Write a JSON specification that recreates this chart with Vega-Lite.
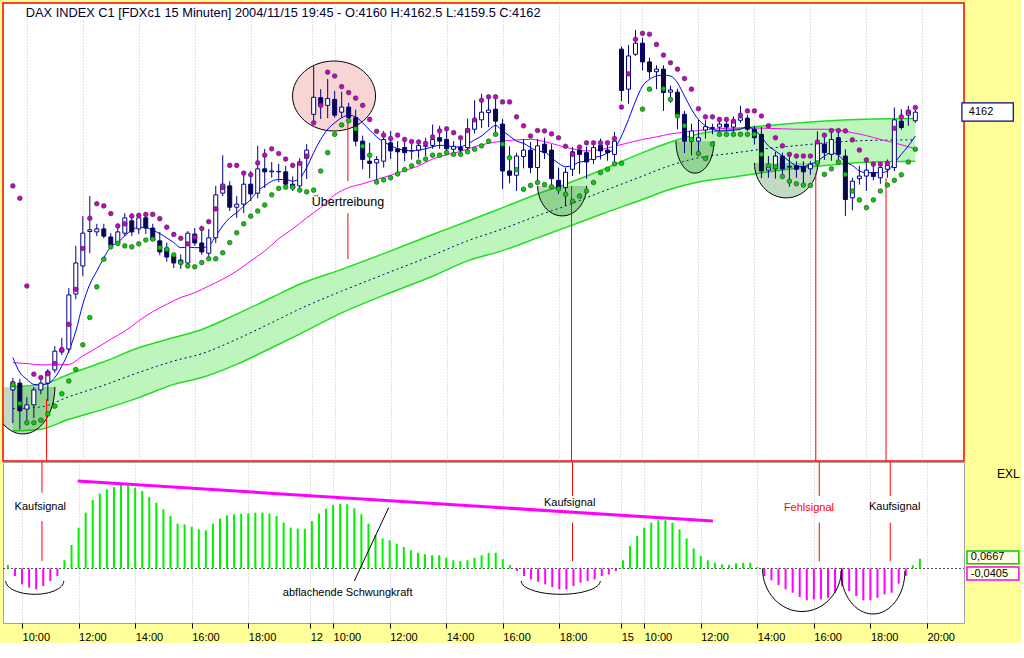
{
  "$schema": "https://vega.github.io/schema/vega-lite/v6.json",
  "background": "#FFFF99",
  "padding": {"left": 2, "top": 2, "right": 0, "bottom": 0},
  "config": {"font": "Liberation Sans"},
  "datasets": {
    "bars": [
      {"i":0,"o":4096.8,"h":4099.6,"l":4089.0,"c":4098.7,"sp":4144.7,"sg":4098.0,"ma":4104.4},
      {"i":1,"o":4098.4,"h":4099.4,"l":4087.5,"c":4091.9,"sp":4141.8,"sg":4093.6,"ma":4100.9},
      {"i":2,"o":4092.3,"h":4095.1,"l":4089.5,"c":4093.3,"sp":4121.2,"sg":4089.1,"ma":4099.3},
      {"i":3,"o":4093.3,"h":4097.5,"l":4090.2,"c":4096.8,"sp":4100.5,"sg":4089.1,"ma":4098.1},
      {"i":4,"o":4096.8,"h":4099.6,"l":4095.8,"c":4098.4,"sp":4099.7,"sg":4089.7,"ma":4098.0},
      {"i":5,"o":4098.4,"h":4101.7,"l":4094.2,"c":4101.2,"sp":4100.6,"sg":4091.2,"ma":4098.3},
      {"i":6,"o":4101.5,"h":4107.1,"l":4100.8,"c":4105.9,"sp":4103.0,"sg":4093.0,"ma":4099.7},
      {"i":7,"o":4105.7,"h":4109.0,"l":4105.0,"c":4106.4,"sp":4106.3,"sg":4095.9,"ma":4102.4},
      {"i":8,"o":4106.4,"h":4120.7,"l":4105.5,"c":4119.1,"sp":4112.2,"sg":4098.9,"ma":4105.9},
      {"i":9,"o":4119.3,"h":4130.6,"l":4118.1,"c":4126.6,"sp":4120.4,"sg":4101.6,"ma":4110.6},
      {"i":10,"o":4125.9,"h":4137.6,"l":4123.5,"c":4133.6,"sp":4130.0,"sg":4107.4,"ma":4116.9},
      {"i":11,"o":4134.0,"h":4142.3,"l":4128.9,"c":4134.4,"sp":4137.1,"sg":4113.8,"ma":4121.6},
      {"i":12,"o":4133.9,"h":4135.8,"l":4132.9,"c":4134.6,"sp":4140.5,"sg":4121.0,"ma":4124.7},
      {"i":13,"o":4134.6,"h":4135.8,"l":4132.4,"c":4132.9,"sp":4140.0,"sg":4127.5,"ma":4127.8},
      {"i":14,"o":4132.7,"h":4133.6,"l":4130.1,"c":4130.8,"sp":4138.2,"sg":4130.4,"ma":4130.4},
      {"i":15,"o":4131.3,"h":4134.8,"l":4130.6,"c":4133.9,"sp":4135.3,"sg":4131.2,"ma":4131.4},
      {"i":16,"o":4133.6,"h":4138.3,"l":4132.9,"c":4137.2,"sp":4135.8,"sg":4130.6,"ma":4133.0},
      {"i":17,"o":4136.5,"h":4138.3,"l":4132.9,"c":4133.9,"sp":4137.6,"sg":4130.4,"ma":4134.3},
      {"i":18,"o":4134.6,"h":4138.3,"l":4133.4,"c":4137.2,"sp":4137.8,"sg":4131.1,"ma":4135.0},
      {"i":19,"o":4137.2,"h":4138.3,"l":4133.4,"c":4134.8,"sp":4138.0,"sg":4132.0,"ma":4134.9},
      {"i":20,"o":4134.8,"h":4135.8,"l":4131.8,"c":4132.0,"sp":4138.0,"sg":4132.2,"ma":4134.3},
      {"i":21,"o":4131.8,"h":4133.9,"l":4128.4,"c":4129.2,"sp":4137.0,"sg":4130.2,"ma":4133.5},
      {"i":22,"o":4130.1,"h":4131.4,"l":4126.9,"c":4128.0,"sp":4135.0,"sg":4129.8,"ma":4132.5},
      {"i":23,"o":4128.2,"h":4128.7,"l":4125.4,"c":4126.6,"sp":4133.3,"sg":4128.5,"ma":4131.4},
      {"i":24,"o":4127.3,"h":4128.6,"l":4125.2,"c":4126.4,"sp":4132.4,"sg":4126.7,"ma":4130.2},
      {"i":25,"o":4126.6,"h":4134.1,"l":4125.9,"c":4133.6,"sp":4131.1,"sg":4125.9,"ma":4130.3},
      {"i":26,"o":4133.4,"h":4134.8,"l":4130.6,"c":4131.3,"sp":4132.7,"sg":4125.7,"ma":4130.2},
      {"i":27,"o":4131.3,"h":4135.3,"l":4128.5,"c":4129.2,"sp":4134.7,"sg":4126.7,"ma":4130.2},
      {"i":28,"o":4128.9,"h":4134.6,"l":4128.0,"c":4132.5,"sp":4136.3,"sg":4127.6,"ma":4130.6},
      {"i":29,"o":4132.5,"h":4144.7,"l":4131.3,"c":4142.6,"sp":4139.3,"sg":4127.6,"ma":4132.9},
      {"i":30,"o":4143.0,"h":4151.9,"l":4142.3,"c":4145.1,"sp":4144.3,"sg":4129.0,"ma":4135.3},
      {"i":31,"o":4144.7,"h":4145.8,"l":4138.8,"c":4139.7,"sp":4149.5,"sg":4131.4,"ma":4137.2},
      {"i":32,"o":4139.7,"h":4142.3,"l":4137.2,"c":4140.4,"sp":4149.5,"sg":4133.7,"ma":4138.4},
      {"i":33,"o":4140.4,"h":4148.2,"l":4138.3,"c":4145.1,"sp":4147.7,"sg":4135.8,"ma":4140.0},
      {"i":34,"o":4145.1,"h":4148.2,"l":4141.1,"c":4142.8,"sp":4147.3,"sg":4137.6,"ma":4141.5},
      {"i":35,"o":4143.0,"h":4154.1,"l":4141.8,"c":4148.7,"sp":4150.1,"sg":4138.8,"ma":4143.5},
      {"i":36,"o":4148.7,"h":4153.4,"l":4144.2,"c":4148.0,"sp":4151.9,"sg":4140.2,"ma":4144.7},
      {"i":37,"o":4148.0,"h":4150.3,"l":4146.6,"c":4148.2,"sp":4153.4,"sg":4142.6,"ma":4145.8},
      {"i":38,"o":4148.0,"h":4149.9,"l":4145.6,"c":4148.1,"sp":4152.3,"sg":4144.1,"ma":4146.2},
      {"i":39,"o":4148.0,"h":4149.4,"l":4144.2,"c":4145.1,"sp":4151.0,"sg":4144.4,"ma":4146.2},
      {"i":40,"o":4145.1,"h":4146.9,"l":4143.5,"c":4144.2,"sp":4149.5,"sg":4144.4,"ma":4145.8},
      {"i":41,"o":4144.7,"h":4151.2,"l":4143.5,"c":4150.3,"sp":4150.0,"sg":4143.7,"ma":4146.5},
      {"i":42,"o":4151.2,"h":4154.5,"l":4146.3,"c":4153.1,"sp":4151.7,"sg":4143.3,"ma":4149.0},
      {"i":43,"o":4161.5,"h":4172.8,"l":4159.9,"c":4165.5,"sp":4159.5,"sg":4143.7,"ma":4152.5},
      {"i":44,"o":4165.4,"h":4167.4,"l":4160.4,"c":4163.6,"sp":4163.6,"sg":4148.2,"ma":4155.6},
      {"i":45,"o":4163.6,"h":4169.8,"l":4160.6,"c":4165.2,"sp":4171.4,"sg":4152.5,"ma":4158.0},
      {"i":46,"o":4165.0,"h":4167.0,"l":4160.7,"c":4161.3,"sp":4170.5,"sg":4156.8,"ma":4159.5},
      {"i":47,"o":4162.0,"h":4166.8,"l":4160.7,"c":4163.2,"sp":4168.0,"sg":4159.0,"ma":4160.7},
      {"i":48,"o":4163.2,"h":4164.2,"l":4159.5,"c":4160.7,"sp":4166.6,"sg":4160.0,"ma":4161.3},
      {"i":49,"o":4160.7,"h":4162.6,"l":4154.0,"c":4155.2,"sp":4165.3,"sg":4158.1,"ma":4160.9},
      {"i":50,"o":4155.2,"h":4156.5,"l":4148.6,"c":4150.9,"sp":4163.6,"sg":4154.0,"ma":4159.5},
      {"i":51,"o":4150.5,"h":4154.8,"l":4146.5,"c":4150.0,"sp":4160.3,"sg":4151.9,"ma":4157.8},
      {"i":52,"o":4150.1,"h":4151.7,"l":4145.3,"c":4150.9,"sp":4157.5,"sg":4145.6,"ma":4156.2},
      {"i":53,"o":4150.5,"h":4157.6,"l":4149.0,"c":4155.6,"sp":4156.6,"sg":4146.1,"ma":4155.0},
      {"i":54,"o":4154.8,"h":4157.6,"l":4151.0,"c":4152.9,"sp":4155.8,"sg":4146.6,"ma":4154.2},
      {"i":55,"o":4153.4,"h":4155.2,"l":4147.3,"c":4152.7,"sp":4156.6,"sg":4147.5,"ma":4153.4},
      {"i":56,"o":4153.7,"h":4155.6,"l":4150.5,"c":4152.5,"sp":4155.6,"sg":4148.5,"ma":4153.1},
      {"i":57,"o":4152.9,"h":4154.6,"l":4150.9,"c":4153.0,"sp":4155.1,"sg":4149.4,"ma":4152.9},
      {"i":58,"o":4153.1,"h":4155.6,"l":4151.1,"c":4154.2,"sp":4155.0,"sg":4150.3,"ma":4153.1},
      {"i":59,"o":4154.0,"h":4156.0,"l":4151.7,"c":4154.2,"sp":4154.7,"sg":4151.0,"ma":4153.4},
      {"i":60,"o":4154.2,"h":4159.1,"l":4153.4,"c":4155.6,"sp":4156.2,"sg":4151.9,"ma":4153.9},
      {"i":61,"o":4156.0,"h":4158.8,"l":4153.4,"c":4155.2,"sp":4157.6,"sg":4151.9,"ma":4154.2},
      {"i":62,"o":4155.6,"h":4157.6,"l":4151.9,"c":4153.4,"sp":4158.1,"sg":4152.5,"ma":4154.2},
      {"i":63,"o":4153.3,"h":4155.2,"l":4152.0,"c":4154.0,"sp":4157.2,"sg":4152.1,"ma":4153.8},
      {"i":64,"o":4153.7,"h":4155.5,"l":4151.9,"c":4153.1,"sp":4156.0,"sg":4152.1,"ma":4153.9},
      {"i":65,"o":4153.7,"h":4160.5,"l":4152.2,"c":4158.1,"sp":4157.7,"sg":4152.7,"ma":4154.5},
      {"i":66,"o":4158.0,"h":4164.8,"l":4157.0,"c":4160.3,"sp":4160.2,"sg":4153.3,"ma":4155.5},
      {"i":67,"o":4160.2,"h":4166.3,"l":4158.3,"c":4162.0,"sp":4164.8,"sg":4154.1,"ma":4156.4},
      {"i":68,"o":4161.9,"h":4165.9,"l":4158.5,"c":4162.5,"sp":4165.6,"sg":4155.2,"ma":4157.8},
      {"i":69,"o":4162.7,"h":4165.1,"l":4157.2,"c":4159.9,"sp":4165.6,"sg":4156.8,"ma":4158.9},
      {"i":70,"o":4159.2,"h":4160.4,"l":4144.0,"c":4148.2,"sp":4164.4,"sg":4154.5,"ma":4157.6},
      {"i":71,"o":4148.2,"h":4154.0,"l":4145.3,"c":4147.2,"sp":4164.4,"sg":4151.3,"ma":4156.4},
      {"i":72,"o":4147.2,"h":4152.5,"l":4143.5,"c":4151.7,"sp":4160.9,"sg":4148.5,"ma":4155.2},
      {"i":73,"o":4151.6,"h":4155.7,"l":4148.8,"c":4153.1,"sp":4158.8,"sg":4143.9,"ma":4154.7},
      {"i":74,"o":4153.1,"h":4155.0,"l":4147.7,"c":4149.0,"sp":4156.4,"sg":4144.8,"ma":4153.7},
      {"i":75,"o":4149.0,"h":4155.7,"l":4145.1,"c":4154.1,"sp":4157.7,"sg":4145.5,"ma":4152.9},
      {"i":76,"o":4154.5,"h":4156.0,"l":4151.0,"c":4152.5,"sp":4157.6,"sg":4145.0,"ma":4152.7},
      {"i":77,"o":4153.1,"h":4154.5,"l":4144.7,"c":4146.4,"sp":4156.9,"sg":4144.5,"ma":4151.3},
      {"i":78,"o":4146.0,"h":4149.0,"l":4142.8,"c":4144.0,"sp":4156.0,"sg":4144.0,"ma":4150.0},
      {"i":79,"o":4144.3,"h":4149.0,"l":4140.0,"c":4147.9,"sp":4154.0,"sg":4142.7,"ma":4149.2},
      {"i":80,"o":4148.6,"h":4153.8,"l":4147.0,"c":4152.7,"sp":4152.1,"sg":4141.1,"ma":4149.5},
      {"i":81,"o":4153.1,"h":4154.2,"l":4147.5,"c":4152.1,"sp":4153.8,"sg":4142.3,"ma":4150.3},
      {"i":82,"o":4152.5,"h":4153.9,"l":4146.4,"c":4150.3,"sp":4154.8,"sg":4143.5,"ma":4150.5},
      {"i":83,"o":4150.9,"h":4155.0,"l":4149.8,"c":4153.7,"sp":4154.8,"sg":4145.5,"ma":4151.3},
      {"i":84,"o":4154.2,"h":4155.8,"l":4150.9,"c":4152.9,"sp":4154.8,"sg":4147.8,"ma":4151.7},
      {"i":85,"o":4153.1,"h":4154.5,"l":4150.6,"c":4152.5,"sp":4154.8,"sg":4148.6,"ma":4152.4},
      {"i":86,"o":4152.1,"h":4157.4,"l":4149.5,"c":4155.2,"sp":4155.8,"sg":4149.9,"ma":4153.5},
      {"i":87,"o":4176.8,"h":4177.4,"l":4164.6,"c":4167.1,"sp":4163.2,"sg":4150.0,"ma":4156.4},
      {"i":88,"o":4167.4,"h":4177.8,"l":4164.0,"c":4175.2,"sp":4171.0,"sg":null,"ma":4160.3},
      {"i":89,"o":4175.6,"h":4181.3,"l":4175.2,"c":4178.2,"sp":4179.1,"sg":null,"ma":4164.6},
      {"i":90,"o":4178.2,"h":4179.4,"l":4171.8,"c":4173.8,"sp":4180.5,"sg":4162.7,"ma":4168.1},
      {"i":91,"o":4173.8,"h":4174.8,"l":4169.9,"c":4171.5,"sp":4180.3,"sg":4167.4,"ma":4169.7},
      {"i":92,"o":4171.5,"h":4173.0,"l":4167.4,"c":4172.1,"sp":4177.9,"sg":null,"ma":4170.5},
      {"i":93,"o":4172.1,"h":4173.0,"l":4162.3,"c":4166.6,"sp":4175.4,"sg":4167.5,"ma":4170.7},
      {"i":94,"o":4166.7,"h":4168.2,"l":4164.2,"c":4167.2,"sp":4173.6,"sg":4165.0,"ma":4170.5},
      {"i":95,"o":4166.7,"h":4167.5,"l":4158.0,"c":4161.5,"sp":4172.1,"sg":4161.1,"ma":4168.9},
      {"i":96,"o":4161.5,"h":4162.3,"l":4152.4,"c":4155.2,"sp":4169.9,"sg":4158.8,"ma":4165.8},
      {"i":97,"o":4155.2,"h":4159.3,"l":4151.9,"c":4157.6,"sp":4167.4,"sg":4155.6,"ma":4162.7},
      {"i":98,"o":4155.2,"h":4160.2,"l":4151.8,"c":4156.0,"sp":4162.8,"sg":4152.3,"ma":4160.3},
      {"i":99,"o":4157.8,"h":4160.1,"l":4155.8,"c":4158.6,"sp":4160.9,"sg":4151.1,"ma":4158.8},
      {"i":100,"o":4158.2,"h":4159.3,"l":4156.8,"c":4158.4,"sp":4160.9,"sg":4154.5,"ma":4158.0},
      {"i":101,"o":4158.5,"h":4160.2,"l":4157.5,"c":4159.2,"sp":4160.3,"sg":4156.8,"ma":4157.6},
      {"i":102,"o":4159.2,"h":4160.3,"l":4157.6,"c":4158.5,"sp":4160.3,"sg":4156.8,"ma":4157.6},
      {"i":103,"o":4158.5,"h":4161.0,"l":4157.3,"c":4160.1,"sp":4159.9,"sg":4156.8,"ma":4157.8},
      {"i":104,"o":4160.1,"h":4163.5,"l":4159.5,"c":4160.7,"sp":4161.3,"sg":4156.8,"ma":4158.0},
      {"i":105,"o":4160.6,"h":4161.4,"l":4157.6,"c":4158.0,"sp":4162.3,"sg":4156.8,"ma":4158.6},
      {"i":106,"o":4158.0,"h":4158.8,"l":4154.4,"c":4156.0,"sp":4162.3,"sg":4156.8,"ma":4157.8},
      {"i":107,"o":4156.8,"h":4158.5,"l":4146.5,"c":4148.2,"sp":4161.1,"sg":4152.1,"ma":4156.2},
      {"i":108,"o":4148.4,"h":4151.7,"l":4146.6,"c":4149.0,"sp":4158.8,"sg":4149.4,"ma":4154.1},
      {"i":109,"o":4148.7,"h":4152.7,"l":4146.4,"c":4151.7,"sp":4156.0,"sg":4149.2,"ma":4152.9},
      {"i":110,"o":4151.7,"h":4152.5,"l":4146.5,"c":4148.7,"sp":4154.1,"sg":4146.9,"ma":4151.7},
      {"i":111,"o":4149.1,"h":4152.5,"l":4144.5,"c":4149.3,"sp":4152.1,"sg":4145.8,"ma":4150.5},
      {"i":112,"o":4149.4,"h":4150.5,"l":4146.6,"c":4148.6,"sp":4151.7,"sg":4145.2,"ma":4149.4},
      {"i":113,"o":4149.2,"h":4150.5,"l":4144.4,"c":4148.0,"sp":4151.7,"sg":4144.9,"ma":4149.2},
      {"i":114,"o":4148.7,"h":4150.5,"l":4147.3,"c":4149.8,"sp":4151.7,"sg":4144.8,"ma":4149.8},
      {"i":115,"o":4150.1,"h":4157.5,"l":4148.6,"c":4154.8,"sp":4155.0,"sg":4150.1,"ma":4150.5},
      {"i":116,"o":4154.5,"h":4156.6,"l":4150.8,"c":4152.5,"sp":4156.6,"sg":4147.4,"ma":4151.7},
      {"i":117,"o":4152.1,"h":4157.6,"l":4150.6,"c":4155.6,"sp":4157.7,"sg":4148.7,"ma":4152.5},
      {"i":118,"o":4156.0,"h":4157.3,"l":4150.3,"c":4152.1,"sp":4157.7,"sg":4150.3,"ma":4151.9},
      {"i":119,"o":4151.7,"h":4153.3,"l":4137.6,"c":4141.5,"sp":4157.6,"sg":4147.4,"ma":4150.3},
      {"i":120,"o":4141.9,"h":4146.6,"l":4139.0,"c":4145.8,"sp":4155.5,"sg":4143.5,"ma":4149.5},
      {"i":121,"o":4146.4,"h":4149.4,"l":4145.0,"c":4147.0,"sp":4153.1,"sg":4141.4,"ma":4148.2},
      {"i":122,"o":4147.0,"h":4150.2,"l":4143.5,"c":4148.4,"sp":4150.8,"sg":4139.6,"ma":4147.8},
      {"i":123,"o":4147.8,"h":4149.8,"l":4146.0,"c":4146.9,"sp":4149.8,"sg":4141.4,"ma":4147.8},
      {"i":124,"o":4146.6,"h":4149.8,"l":4145.2,"c":4149.0,"sp":4149.8,"sg":4143.5,"ma":4147.8},
      {"i":125,"o":4148.6,"h":4150.9,"l":4146.6,"c":4149.5,"sp":4150.0,"sg":4144.9,"ma":4148.2},
      {"i":126,"o":4149.0,"h":4163.1,"l":4148.2,"c":4160.2,"sp":4158.2,"sg":4146.0,"ma":4150.1},
      {"i":127,"o":4159.9,"h":4162.7,"l":4157.9,"c":4158.4,"sp":4160.9,"sg":4147.3,"ma":4152.1},
      {"i":128,"o":4161.3,"h":4163.5,"l":4158.8,"c":4162.3,"sp":4162.1,"sg":4150.3,"ma":4154.1},
      {"i":129,"o":4160.0,"h":4162.5,"l":4159.5,"c":4162.0,"sp":4163.1,"sg":4153.3,"ma":4156.4}
    ],
    "slow": [
      {"i":0,"ms":4103.2},{"i":2,"ms":4103.0},{"i":4,"ms":4102.7},{"i":6,"ms":4102.7},{"i":8,"ms":4102.8},
      {"i":10,"ms":4104.8},{"i":12,"ms":4106.7},{"i":14,"ms":4108.7},{"i":16,"ms":4110.6},{"i":18,"ms":4113.0},
      {"i":20,"ms":4115.2},{"i":22,"ms":4116.9},{"i":24,"ms":4118.5},{"i":26,"ms":4119.6},{"i":28,"ms":4121.2},
      {"i":30,"ms":4122.8},{"i":32,"ms":4124.7},{"i":34,"ms":4127.1},{"i":36,"ms":4129.4},{"i":38,"ms":4132.3},
      {"i":40,"ms":4134.6},{"i":42,"ms":4137.2},{"i":44,"ms":4139.6},{"i":46,"ms":4142.6},{"i":48,"ms":4144.3},
      {"i":50,"ms":4145.2},{"i":52,"ms":4146.2},{"i":54,"ms":4147.2},{"i":56,"ms":4148.3},{"i":58,"ms":4149.4},
      {"i":60,"ms":4151.0},{"i":62,"ms":4152.0},{"i":64,"ms":4152.8},{"i":66,"ms":4153.9},{"i":68,"ms":4154.7},
      {"i":70,"ms":4155.2},{"i":72,"ms":4155.5},{"i":74,"ms":4155.6},{"i":76,"ms":4155.1},{"i":78,"ms":4154.2},
      {"i":80,"ms":4153.4},{"i":82,"ms":4152.9},{"i":84,"ms":4153.2},{"i":86,"ms":4154.0},{"i":88,"ms":4154.8},
      {"i":90,"ms":4155.6},{"i":92,"ms":4156.2},{"i":94,"ms":4156.9},{"i":96,"ms":4157.3},{"i":98,"ms":4157.7},
      {"i":100,"ms":4158.0},{"i":102,"ms":4158.2},{"i":104,"ms":4158.3},{"i":106,"ms":4158.3},{"i":108,"ms":4158.2},
      {"i":110,"ms":4158.1},{"i":112,"ms":4158.0},{"i":114,"ms":4158.0},{"i":116,"ms":4158.0},{"i":118,"ms":4157.8},
      {"i":120,"ms":4157.2},{"i":122,"ms":4156.5},{"i":124,"ms":4155.6},{"i":126,"ms":4154.8},{"i":128,"ms":4153.9},
      {"i":129,"ms":4153.4}
    ],
    "band": [
      {"i":0,"up":4097.6,"lo":4087.2,"mid":4092.4},
      {"i":4,"up":4098.0,"lo":4087.6,"mid":4092.8},
      {"i":8,"up":4100.5,"lo":4089.9,"mid":4095.2},
      {"i":13,"up":4103.4,"lo":4092.3,"mid":4097.9},
      {"i":18,"up":4106.7,"lo":4095.0,"mid":4100.9},
      {"i":23,"up":4109.1,"lo":4098.1,"mid":4103.6},
      {"i":27,"up":4111.0,"lo":4099.7,"mid":4105.3},
      {"i":32,"up":4114.6,"lo":4102.8,"mid":4108.7},
      {"i":37,"up":4118.5,"lo":4106.7,"mid":4112.6},
      {"i":41,"up":4121.6,"lo":4109.9,"mid":4115.8},
      {"i":47,"up":4125.1,"lo":4114.9,"mid":4120.0},
      {"i":53,"up":4128.8,"lo":4119.0,"mid":4123.9},
      {"i":60,"up":4133.3,"lo":4123.5,"mid":4128.4},
      {"i":65,"up":4136.4,"lo":4127.1,"mid":4131.8},
      {"i":70,"up":4139.6,"lo":4129.5,"mid":4134.6},
      {"i":75,"up":4142.8,"lo":4132.5,"mid":4137.7},
      {"i":79,"up":4145.1,"lo":4134.9,"mid":4140.0},
      {"i":84,"up":4148.3,"lo":4138.0,"mid":4143.2},
      {"i":90,"up":4152.5,"lo":4141.5,"mid":4147.0},
      {"i":94,"up":4155.0,"lo":4143.9,"mid":4149.5},
      {"i":98,"up":4156.9,"lo":4145.6,"mid":4151.3},
      {"i":103,"up":4158.0,"lo":4146.8,"mid":4152.4},
      {"i":108,"up":4158.9,"lo":4148.0,"mid":4153.5},
      {"i":113,"up":4159.6,"lo":4149.0,"mid":4154.3},
      {"i":118,"up":4160.1,"lo":4149.8,"mid":4155.0},
      {"i":123,"up":4160.4,"lo":4150.3,"mid":4155.4},
      {"i":129,"up":4160.5,"lo":4150.5,"mid":4155.5}
    ],
    "osc": [
      {"i":0,"v":0.024},{"i":1,"v":-0.051},{"i":2,"v":-0.108},{"i":3,"v":-0.13},{"i":4,"v":-0.142},
      {"i":5,"v":-0.119},{"i":6,"v":-0.085},{"i":7,"v":-0.051},{"i":8,"v":0.056},{"i":9,"v":0.16},
      {"i":10,"v":0.278},{"i":11,"v":0.38},{"i":12,"v":0.466},{"i":13,"v":0.51},{"i":14,"v":0.539},
      {"i":15,"v":0.554},{"i":16,"v":0.568},{"i":17,"v":0.561},{"i":18,"v":0.55},{"i":19,"v":0.527},
      {"i":20,"v":0.486},{"i":21,"v":0.448},{"i":22,"v":0.403},{"i":23,"v":0.357},{"i":24,"v":0.305},
      {"i":25,"v":0.3},{"i":26,"v":0.284},{"i":27,"v":0.266},{"i":28,"v":0.26},{"i":29,"v":0.305},
      {"i":30,"v":0.339},{"i":31,"v":0.362},{"i":32,"v":0.369},{"i":33,"v":0.373},{"i":34,"v":0.375},
      {"i":35,"v":0.38},{"i":36,"v":0.38},{"i":37,"v":0.375},{"i":38,"v":0.357},{"i":39,"v":0.312},
      {"i":40,"v":0.278},{"i":41,"v":0.271},{"i":42,"v":0.271},{"i":43,"v":0.323},{"i":44,"v":0.373},
      {"i":45,"v":0.407},{"i":46,"v":0.432},{"i":47,"v":0.441},{"i":48,"v":0.437},{"i":49,"v":0.41},
      {"i":50,"v":0.369},{"i":51,"v":0.305},{"i":52,"v":0.228},{"i":53,"v":0.205},{"i":54,"v":0.192},
      {"i":55,"v":0.169},{"i":56,"v":0.146},{"i":57,"v":0.124},{"i":58,"v":0.107},{"i":59,"v":0.097},
      {"i":60,"v":0.09},{"i":61,"v":0.09},{"i":62,"v":0.073},{"i":63,"v":0.056},{"i":64,"v":0.051},
      {"i":65,"v":0.056},{"i":66,"v":0.073},{"i":67,"v":0.09},{"i":68,"v":0.107},{"i":69,"v":0.107},
      {"i":70,"v":0.063},{"i":71,"v":0.024},{"i":72,"v":-0.017},{"i":73,"v":-0.051},{"i":74,"v":-0.074},
      {"i":75,"v":-0.09},{"i":76,"v":-0.108},{"i":77,"v":-0.126},{"i":78,"v":-0.142},{"i":79,"v":-0.142},
      {"i":80,"v":-0.119},{"i":81,"v":-0.096},{"i":82,"v":-0.085},{"i":83,"v":-0.074},{"i":84,"v":-0.051},
      {"i":85,"v":-0.04},{"i":86,"v":-0.017},{"i":87,"v":0.056},{"i":88,"v":0.153},{"i":89,"v":0.221},
      {"i":90,"v":0.278},{"i":91,"v":0.312},{"i":92,"v":0.328},{"i":93,"v":0.328},{"i":94,"v":0.312},
      {"i":95,"v":0.266},{"i":96,"v":0.205},{"i":97,"v":0.137},{"i":98,"v":0.085},{"i":99,"v":0.056},
      {"i":100,"v":0.039},{"i":101,"v":0.028},{"i":102,"v":0.024},{"i":103,"v":0.035},{"i":104,"v":0.039},
      {"i":105,"v":0.039},{"i":106,"v":0.009},{"i":107,"v":-0.051},{"i":108,"v":-0.08},{"i":109,"v":-0.112},
      {"i":110,"v":-0.142},{"i":111,"v":-0.165},{"i":112,"v":-0.194},{"i":113,"v":-0.216},{"i":114,"v":-0.21},
      {"i":115,"v":-0.21},{"i":116,"v":-0.199},{"i":117,"v":-0.165},{"i":118,"v":-0.12},{"i":119,"v":-0.153},
      {"i":120,"v":-0.187},{"i":121,"v":-0.216},{"i":122,"v":-0.216},{"i":123,"v":-0.199},{"i":124,"v":-0.176},
      {"i":125,"v":-0.165},{"i":126,"v":-0.103},{"i":127,"v":-0.051},{"i":128,"v":0.022},{"i":129,"v":0.0667}
    ],
    "ellipse": [{"i":45.91,"p":4165.8}],
    "bowls": [
      {"k":"a","i":1.43,"p":4097.5},
      {"k":"b","i":78.52,"p":4144.7},
      {"k":"c","i":97.5,"p":4155.2},
      {"k":"d","i":110.53,"p":4150.1}
    ],
    "arcs": [
      {"k":"a","i":3.8,"v":-0.085},
      {"k":"b","i":78.2,"v":-0.085},
      {"k":"c","i":112.33,"v":0.0},
      {"k":"d","i":122.36,"v":-0.017}
    ],
    "sigTop": [
      {"i":4.82,"a":4094.7,"b":4080.12},
      {"i":47.89,"a":4160.4,"b":4145.8},
      {"i":47.89,"a":4138.3,"b":4127.5},
      {"i":79.86,"a":4144.7,"b":4080.12},
      {"i":114.77,"a":4147.8,"b":4080.12},
      {"i":124.81,"a":4146.5,"b":4080.12}
    ],
    "sigBot": [
      {"i":4.82,"a":0.7245,"b":0.516},{"i":4.82,"a":0.323,"b":0.05},
      {"i":79.86,"a":0.7245,"b":0.493},{"i":79.86,"a":0.312,"b":0.05},
      {"i":114.77,"a":0.7245,"b":0.493},{"i":114.77,"a":0.312,"b":0.05},
      {"i":124.81,"a":0.7245,"b":0.493},{"i":124.81,"a":0.312,"b":0.05}
    ],
    "head": [{"i":1.85,"p":4185.2,"t":"DAX INDEX C1 [FDXc1  15 Minuten] 2004/11/15 19:45 - O:4160 H:4162.5 L:4159.5 C:4162"}],
    "noteTop": [{"i":47.9,"p":4140.8,"t":"Übertreibung"}],
    "noteBot": [
      {"i":4.58,"v":0.418,"t":"Kaufsignal"},
      {"i":79.46,"v":0.444,"t":"Kaufsignal"},
      {"i":113.31,"v":0.414,"t":"Fehlsignal"},
      {"i":125.43,"v":0.418,"t":"Kaufsignal"},
      {"i":48.06,"v":-0.169,"t":"abflachende Schwungkraft"}
    ],
    "exl": [{"i":143.1,"v":0.643,"t":"EXL"}],
    "trend": [{"i":9.87,"v":0.595,"i2":99.73,"v2":0.323}],
    "pointer": [{"i":49.0,"v":-0.085,"i2":53.86,"v2":0.414}],
    "zero": [{"v":0}],
    "tagTop": [{"i":135.66,"i2":143.0,"p":4164.2,"p2":4159.9,"ti":136.65,"tp":4162.0,"t":"4162"}],
    "tagBot": [
      {"k":"pos","i":135.66,"i2":143.0,"v":0.119,"v2":0.033,"ti":136.2,"tv":0.076,"t":"0,0667"},
      {"k":"neg","i":135.66,"i2":143.0,"v":0.010,"v2":-0.078,"ti":136.2,"tv":-0.034,"t":"-0,0405"}
    ]
  },
  "bounds": "flush",
  "spacing": 1,
  "resolve": {"scale": {"shape": "independent"}},
  "vconcat": [
    {
      "width": 961,
      "height": 458,
      "view": {"fill": "white", "stroke": "#FF0000", "strokeWidth": 1.5},
      "encoding": {
        "x": {
          "field": "i", "type": "quantitative",
          "scale": {"domain": [-0.693, 135.24], "nice": false, "zero": false},
          "axis": {
            "values": [2, 10, 18, 26, 34, 42.75, 46, 54, 62, 70, 78, 86.75, 90, 98, 106, 114, 122, 130],
            "labels": false, "ticks": false, "domain": false, "title": null,
            "grid": true, "gridColor": "#c4c4c4", "gridDash": [1, 2]
          }
        }
      },
      "layer": [
        {
          "data": {"name": "band"},
          "mark": {"type": "area", "color": "#BDF5BD", "opacity": 1, "interpolate": "monotone"},
          "encoding": {
            "y": {
              "field": "lo", "type": "quantitative",
              "scale": {"domain": [4080.12, 4187.63]},
              "axis": {
                "orient": "right", "title": null, "format": "d",
                "values": [4085, 4090, 4095, 4100, 4105, 4110, 4115, 4120, 4125, 4130, 4135, 4140, 4145, 4150, 4155, 4160, 4165, 4170, 4175, 4180, 4185],
                "domain": false, "tickSize": 6, "tickColor": "black", "labelPadding": 4,
                "labelFontSize": 11, "labelColor": "black",
                "grid": true, "gridColor": "#c4c4c4", "gridDash": [1, 2]
              }
            },
            "y2": {"field": "up"}
          }
        },
        {
          "data": {"name": "band"},
          "mark": {"type": "line", "color": "#22DD22", "strokeWidth": 1.5, "interpolate": "monotone"},
          "encoding": {"y": {"field": "up", "type": "quantitative", "scale": {"domain": [4080.12, 4187.63]}, "axis": null}}
        },
        {
          "data": {"name": "band"},
          "mark": {"type": "line", "color": "#22DD22", "strokeWidth": 1.5, "interpolate": "monotone"},
          "encoding": {"y": {"field": "lo", "type": "quantitative", "scale": {"domain": [4080.12, 4187.63]}, "axis": null}}
        },
        {
          "data": {"name": "band"},
          "mark": {"type": "line", "color": "#000070", "strokeWidth": 1, "strokeDash": [2, 3], "interpolate": "monotone"},
          "encoding": {"y": {"field": "mid", "type": "quantitative", "scale": {"domain": [4080.12, 4187.63]}, "axis": null}}
        },
        {
          "data": {"name": "ellipse"},
          "mark": {
            "type": "point", "filled": true, "size": 4, "opacity": 1,
            "shape": "M -41.5 0 A 41.5 35 0 1 1 41.5 0 A 41.5 35 0 1 1 -41.5 0 Z",
            "fill": "#F7D5D5", "stroke": "black", "strokeWidth": 1
          },
          "encoding": {"y": {"field": "p", "type": "quantitative", "scale": {"domain": [4080.12, 4187.63]}, "axis": null}}
        },
        {
          "data": {"name": "bowls"},
          "mark": {"type": "point", "filled": true, "size": 4, "opacity": 1, "fill": "#1F7A1F", "fillOpacity": 0.28, "stroke": "black", "strokeWidth": 1, "clip": true},
          "encoding": {
            "y": {"field": "p", "type": "quantitative", "scale": {"domain": [4080.12, 4187.63]}, "axis": null},
            "shape": {
              "field": "k", "type": "nominal", "legend": null,
              "scale": {
                "domain": ["a", "b", "c", "d"],
                "range": [
                  "M -32 0 A 32 47 0 0 0 32 0",
                  "M -24.5 0 A 24.5 30 0 0 0 24.5 0",
                  "M -19 0 A 19 32 0 0 0 19 0",
                  "M -31.7 0 A 31.7 35 0 0 0 31.7 0"
                ]
              }
            }
          }
        },
        {
          "data": {"name": "slow"},
          "mark": {"type": "line", "color": "#FF00FF", "strokeWidth": 1, "interpolate": "monotone"},
          "encoding": {"y": {"field": "ms", "type": "quantitative", "scale": {"domain": [4080.12, 4187.63]}, "axis": null}}
        },
        {
          "data": {"name": "bars"},
          "mark": {"type": "line", "color": "#0000FF", "strokeWidth": 1, "interpolate": "monotone"},
          "encoding": {"y": {"field": "ma", "type": "quantitative", "scale": {"domain": [4080.12, 4187.63]}, "axis": null}}
        },
        {
          "data": {"name": "sigTop"},
          "mark": {"type": "rule", "color": "#FF0000", "strokeWidth": 1},
          "encoding": {
            "y": {"field": "a", "type": "quantitative", "scale": {"domain": [4080.12, 4187.63]}, "axis": null},
            "y2": {"field": "b"}
          }
        },
        {
          "data": {"name": "bars"},
          "mark": {"type": "rule", "color": "#000080", "strokeWidth": 1},
          "encoding": {
            "y": {"field": "l", "type": "quantitative", "scale": {"domain": [4080.12, 4187.63]}, "axis": null},
            "y2": {"field": "h"}
          }
        },
        {
          "data": {"name": "bars"},
          "mark": {"type": "bar", "size": 4, "stroke": "#000080", "strokeWidth": 1},
          "encoding": {
            "y": {"field": "o", "type": "quantitative", "scale": {"domain": [4080.12, 4187.63]}, "axis": null},
            "y2": {"field": "c"},
            "fill": {"condition": {"test": "datum.c >= datum.o", "value": "#FFFFFF"}, "value": "#0A0A3C"}
          }
        },
        {
          "data": {"name": "bars"},
          "transform": [{"filter": "isValid(datum.sp)"}],
          "mark": {"type": "circle", "size": 22, "opacity": 1, "color": "#CC00CC", "stroke": "#303030", "strokeWidth": 0.6},
          "encoding": {"y": {"field": "sp", "type": "quantitative", "scale": {"domain": [4080.12, 4187.63]}, "axis": null}}
        },
        {
          "data": {"name": "bars"},
          "transform": [{"filter": "isValid(datum.sg)"}],
          "mark": {"type": "circle", "size": 22, "opacity": 1, "color": "#00D200", "stroke": "#303030", "strokeWidth": 0.6},
          "encoding": {"y": {"field": "sg", "type": "quantitative", "scale": {"domain": [4080.12, 4187.63]}, "axis": null}}
        },
        {
          "data": {"name": "head"},
          "mark": {"type": "text", "align": "left", "baseline": "middle", "fontSize": 12.8, "color": "#000033"},
          "encoding": {
            "y": {"field": "p", "type": "quantitative", "scale": {"domain": [4080.12, 4187.63]}, "axis": null},
            "text": {"field": "t"}
          }
        },
        {
          "data": {"name": "noteTop"},
          "mark": {"type": "text", "align": "center", "baseline": "middle", "fontSize": 12.5, "color": "black"},
          "encoding": {
            "y": {"field": "p", "type": "quantitative", "scale": {"domain": [4080.12, 4187.63]}, "axis": null},
            "text": {"field": "t"}
          }
        },
        {
          "data": {"name": "tagTop"},
          "mark": {"type": "rect", "fill": "#FFFFFF", "stroke": "#000080", "strokeWidth": 1.2},
          "encoding": {
            "x": {"field": "i"}, "x2": {"field": "i2"},
            "y": {"field": "p", "type": "quantitative", "scale": {"domain": [4080.12, 4187.63]}, "axis": null},
            "y2": {"field": "p2"}
          }
        },
        {
          "data": {"name": "tagTop"},
          "mark": {"type": "text", "align": "left", "baseline": "middle", "fontSize": 11, "color": "black"},
          "encoding": {
            "x": {"field": "ti", "type": "quantitative"},
            "y": {"field": "tp", "type": "quantitative", "scale": {"domain": [4080.12, 4187.63]}, "axis": null},
            "text": {"field": "t"}
          }
        }
      ]
    },
    {
      "width": 961,
      "height": 161,
      "view": {"fill": "white", "stroke": "#A0A0A0", "strokeWidth": 1},
      "encoding": {
        "x": {
          "field": "i", "type": "quantitative",
          "scale": {"domain": [-0.693, 135.24], "nice": false, "zero": false},
          "axis": {
            "values": [2, 10, 18, 26, 34, 42.75, 46, 54, 62, 70, 78, 86.75, 90, 98, 106, 114, 122, 130],
            "labelExpr": "datum.value == 42.75 ? '12' : datum.value == 86.75 ? '15' : (10 + ((datum.value - 2) % 44) / 4) + ':00'",
            "labelAlign": "left", "labelBaseline": "top", "labelPadding": 3, "labelOverlap": false, "labelFlush": false,
            "labelFontSize": 11, "labelColor": "black",
            "tickSize": 5, "tickColor": "black", "domain": false, "title": null,
            "grid": true, "gridColor": "#c4c4c4", "gridDash": [1, 2]
          }
        }
      },
      "layer": [
        {
          "data": {"name": "zero"},
          "mark": {"type": "rule", "color": "#505050", "strokeWidth": 1, "strokeDash": [2, 2]},
          "encoding": {
            "x": {"value": 0}, "x2": {"value": 961},
            "y": {
              "field": "v", "type": "quantitative",
              "scale": {"domain": [-0.3707, 0.7245]},
              "axis": {
                "orient": "right", "title": null,
                "values": [-0.3, -0.2, -0.1, 0, 0.1, 0.2, 0.3, 0.4, 0.5],
                "labelExpr": "replace(replace(format(datum.value, '.1f'), '.', ','), '−', '-')",
                "domain": false, "tickSize": 6, "tickColor": "black", "labelPadding": 4,
                "labelFontSize": 11, "labelColor": "black",
                "grid": true, "gridColor": "#c4c4c4", "gridDash": [1, 2]
              }
            }
          }
        },
        {
          "data": {"name": "osc"},
          "mark": {"type": "rule", "strokeWidth": 2},
          "encoding": {
            "y": {"field": "v", "type": "quantitative", "scale": {"domain": [-0.3707, 0.7245]}, "axis": null},
            "y2": {"datum": 0},
            "color": {"condition": {"test": "datum.v >= 0", "value": "#00F000"}, "value": "#FF00FF"}
          }
        },
        {
          "data": {"name": "trend"},
          "mark": {"type": "rule", "color": "#FF00FF", "strokeWidth": 3},
          "encoding": {
            "x2": {"field": "i2"},
            "y": {"field": "v", "type": "quantitative", "scale": {"domain": [-0.3707, 0.7245]}, "axis": null},
            "y2": {"field": "v2"}
          }
        },
        {
          "data": {"name": "pointer"},
          "mark": {"type": "rule", "color": "black", "strokeWidth": 1},
          "encoding": {
            "x2": {"field": "i2"},
            "y": {"field": "v", "type": "quantitative", "scale": {"domain": [-0.3707, 0.7245]}, "axis": null},
            "y2": {"field": "v2"}
          }
        },
        {
          "data": {"name": "arcs"},
          "mark": {"type": "point", "filled": false, "size": 4, "opacity": 1, "stroke": "black", "strokeWidth": 1},
          "encoding": {
            "y": {"field": "v", "type": "quantitative", "scale": {"domain": [-0.3707, 0.7245]}, "axis": null},
            "shape": {
              "field": "k", "type": "nominal", "legend": null,
              "scale": {
                "domain": ["a", "b", "c", "d"],
                "range": [
                  "M -29 0 A 29 13.3 0 0 0 29 0",
                  "M -39.5 0 A 39.5 13.3 0 0 0 39.5 0",
                  "M -39.5 0 A 39.5 43 0 0 0 39.5 0",
                  "M -32 0 A 32 43 0 0 0 32 0"
                ]
              }
            }
          }
        },
        {
          "data": {"name": "sigBot"},
          "mark": {"type": "rule", "color": "#FF0000", "strokeWidth": 1},
          "encoding": {
            "y": {"field": "a", "type": "quantitative", "scale": {"domain": [-0.3707, 0.7245]}, "axis": null},
            "y2": {"field": "b"}
          }
        },
        {
          "data": {"name": "noteBot"},
          "mark": {"type": "text", "align": "center", "baseline": "middle", "fontSize": 11},
          "encoding": {
            "y": {"field": "v", "type": "quantitative", "scale": {"domain": [-0.3707, 0.7245]}, "axis": null},
            "text": {"field": "t"},
            "color": {"condition": {"test": "datum.t == 'Fehlsignal'", "value": "#FF0000"}, "value": "black"}
          }
        },
        {
          "data": {"name": "exl"},
          "mark": {"type": "text", "align": "right", "baseline": "middle", "fontSize": 12, "color": "black"},
          "encoding": {
            "y": {"field": "v", "type": "quantitative", "scale": {"domain": [-0.3707, 0.7245]}, "axis": null},
            "text": {"field": "t"}
          }
        },
        {
          "data": {"name": "tagBot"},
          "mark": {"type": "rect", "fill": "#FFFFE6", "strokeWidth": 1.5},
          "encoding": {
            "x": {"field": "i"}, "x2": {"field": "i2"},
            "y": {"field": "v", "type": "quantitative", "scale": {"domain": [-0.3707, 0.7245]}, "axis": null},
            "y2": {"field": "v2"},
            "stroke": {"condition": {"test": "datum.k == 'pos'", "value": "#00D000"}, "value": "#FF00FF"}
          }
        },
        {
          "data": {"name": "tagBot"},
          "mark": {"type": "text", "align": "left", "baseline": "middle", "fontSize": 11, "color": "black"},
          "encoding": {
            "x": {"field": "ti", "type": "quantitative"},
            "y": {"field": "tv", "type": "quantitative", "scale": {"domain": [-0.3707, 0.7245]}, "axis": null},
            "text": {"field": "t"}
          }
        }
      ]
    }
  ]
}
